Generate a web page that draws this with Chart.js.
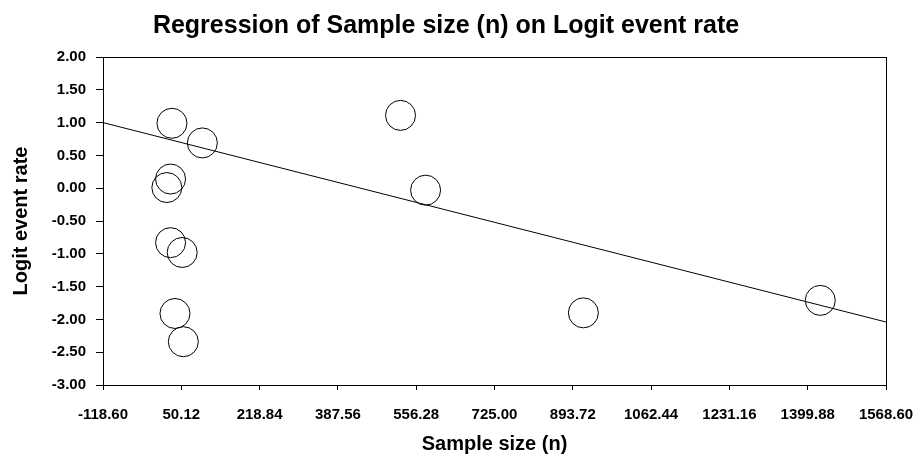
<!DOCTYPE html>
<html>
<head>
<meta charset="utf-8">
<script src="https://cdn.jsdelivr.net/npm/chart.js@4"></script>
<style>
  html, body { margin: 0; padding: 0; background: #fff; }
  #wrap { width: 919px; height: 456px; }
</style>
</head>
<body>
<div id="wrap"><canvas id="chart" width="919" height="456"></canvas></div>
<script>
// studies: sample size (n) and logit event rate
const sampleSize = [30, 95.5, 27, 19, 27, 52, 36.5, 54.5, 522.5, 576.5, 916.5, 1427];
const logitRate  = [0.99, 0.69, 0.14, 0.01, -0.83, -0.98, -1.91, -2.34, 1.11, -0.03, -1.90, -1.71];

// fitted regression line, end points at the axis limits
const fitX = [-118.60, 1568.60];
const fitY = [1.00, -2.04];

const xTicks = [-118.60, 50.12, 218.84, 387.56, 556.28, 725.00, 893.72, 1062.44, 1231.16, 1399.88, 1568.60];
const yTicks = [-3.00, -2.50, -2.00, -1.50, -1.00, -0.50, 0.00, 0.50, 1.00, 1.50, 2.00];

const FONT = '"Liberation Sans", Arial, sans-serif';

// box round the plot area (top and right edges)
const frame = {
  id: 'frame',
  afterDraw(chart) {
    const a = chart.chartArea, ctx = chart.ctx;
    ctx.save();
    ctx.strokeStyle = '#000';
    ctx.lineWidth = 1;
    ctx.strokeRect(Math.round(a.left) + 0.5, Math.round(a.top) + 0.5,
      Math.round(a.right - a.left), Math.round(a.bottom - a.top));
    ctx.restore();
  }
};

new Chart(document.getElementById('chart'), {
  data: {
    datasets: [
      {
        type: 'scatter',
        label: 'Studies',
        data: sampleSize.map((x, i) => ({ x: x, y: logitRate[i] })),
        pointRadius: 15,
        pointHoverRadius: 15,
        pointBackgroundColor: 'rgba(0,0,0,0)',
        pointBorderColor: '#000',
        pointBorderWidth: 1
      },
      {
        type: 'line',
        label: 'Regression',
        data: fitX.map((x, i) => ({ x: x, y: fitY[i] })),
        borderColor: '#000',
        borderWidth: 1,
        pointRadius: 0,
        fill: false
      }
    ]
  },
  options: {
    responsive: false,
    animation: false,
    layout: { padding: { left: 6, right: 33, top: 0, bottom: 0 } },
    plugins: {
      legend: { display: false },
      tooltip: { enabled: false },
      title: {
        display: true,
        text: 'Regression of Sample size (n) on Logit event rate',
        color: '#000',
        font: { family: FONT, size: 25, weight: 'bold' },
        padding: { top: 11, bottom: 16 }
      }
    },
    scales: {
      x: {
        type: 'linear',
        min: xTicks[0],
        max: xTicks[xTicks.length - 1],
        afterBuildTicks: s => { s.ticks = xTicks.map(v => ({ value: v })); },
        afterFit: s => { s.height = 71; s.paddingLeft = 0; s.paddingRight = 0; },
        grid: { display: true, drawOnChartArea: false, drawTicks: true, tickLength: 5, color: '#000' },
        border: { display: true, color: '#000', width: 1 },
        ticks: {
          color: '#000',
          padding: 16,
          maxRotation: 0,
          autoSkip: false,
          font: { family: FONT, size: 15, weight: 'bold' },
          callback: v => Number(v).toFixed(2)
        },
        title: {
          display: true,
          text: 'Sample size (n)',
          color: '#000',
          font: { family: FONT, size: 20, weight: 'bold' },
          padding: { top: 0, bottom: 0 }
        }
      },
      y: {
        type: 'linear',
        min: yTicks[0],
        max: yTicks[yTicks.length - 1],
        afterBuildTicks: s => { s.ticks = yTicks.map(v => ({ value: v })); },
        afterFit: s => { s.width = 97; },
        grid: { display: true, drawOnChartArea: false, drawTicks: true, tickLength: 7, color: '#000' },
        border: { display: true, color: '#000', width: 1 },
        ticks: {
          color: '#000',
          padding: 10,
          font: { family: FONT, size: 15, weight: 'bold' },
          callback: v => Number(v).toFixed(2)
        },
        title: {
          display: true,
          text: 'Logit event rate',
          color: '#000',
          font: { family: FONT, size: 20, weight: 'bold' },
          padding: { top: 3, bottom: 0 }
        }
      }
    }
  },
  plugins: [frame]
});
</script>
</body>
</html>
